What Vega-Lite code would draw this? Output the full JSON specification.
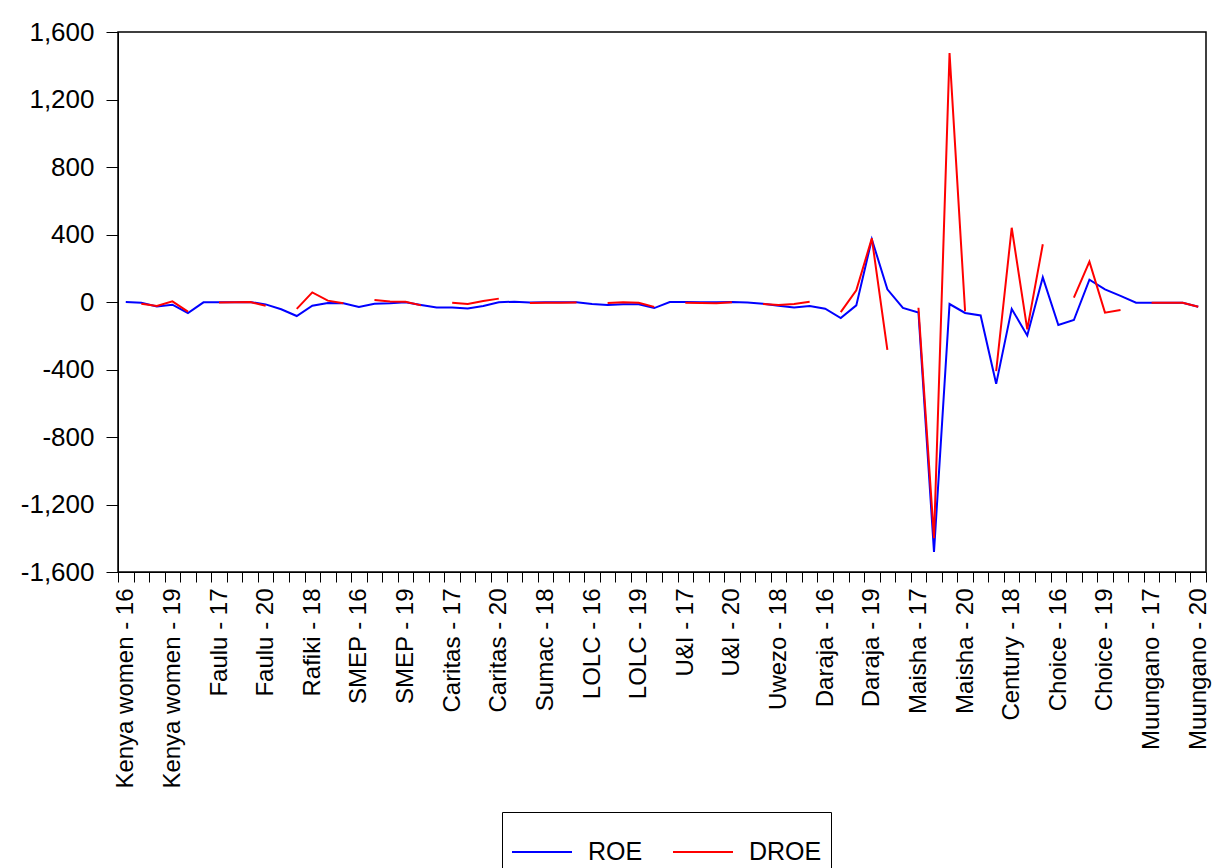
{
  "$schema": "https://vega.github.io/schema/vega-lite/v6.json",
  "width": 1088,
  "height": 540,
  "autosize": {"type": "none"},
  "padding": {"left": 118, "top": 32, "right": 7, "bottom": 296},
  "config": {
    "font": "Liberation Sans",
    "view": {"stroke": "black", "strokeWidth": 1.5},
    "axis": {"domainColor": "black", "tickColor": "black", "labelColor": "black", "grid": false, "title": null}
  },
  "data": {
    "values": [
      {"obs": "Kenya women - 16", "ROE": 0, "DROE": null},
      {"obs": "Kenya women - 17", "ROE": -4, "DROE": -10},
      {"obs": "Kenya women - 18", "ROE": -26, "DROE": -24},
      {"obs": "Kenya women - 19", "ROE": -16, "DROE": 4},
      {"obs": "Kenya women - 20", "ROE": -65, "DROE": -57},
      {"obs": "Faulu - 16", "ROE": -2, "DROE": null},
      {"obs": "Faulu - 17", "ROE": -2, "DROE": -3},
      {"obs": "Faulu - 18", "ROE": -1, "DROE": -2},
      {"obs": "Faulu - 19", "ROE": 0, "DROE": 0},
      {"obs": "Faulu - 20", "ROE": -14, "DROE": -22},
      {"obs": "Rafiki - 16", "ROE": -43, "DROE": null},
      {"obs": "Rafiki - 17", "ROE": -83, "DROE": -41},
      {"obs": "Rafiki - 18", "ROE": -22, "DROE": 57},
      {"obs": "Rafiki - 19", "ROE": -6, "DROE": 8},
      {"obs": "Rafiki - 20", "ROE": -8, "DROE": -8},
      {"obs": "SMEP - 16", "ROE": -30, "DROE": null},
      {"obs": "SMEP - 17", "ROE": -10, "DROE": 12},
      {"obs": "SMEP - 18", "ROE": -8, "DROE": 3},
      {"obs": "SMEP - 19", "ROE": -2, "DROE": 2},
      {"obs": "SMEP - 20", "ROE": -18, "DROE": -20},
      {"obs": "Caritas - 16", "ROE": -32, "DROE": null},
      {"obs": "Caritas - 17", "ROE": -32, "DROE": -4},
      {"obs": "Caritas - 18", "ROE": -38, "DROE": -12},
      {"obs": "Caritas - 19", "ROE": -24, "DROE": 6},
      {"obs": "Caritas - 20", "ROE": -2, "DROE": 20},
      {"obs": "Sumac - 16", "ROE": 2, "DROE": null},
      {"obs": "Sumac - 17", "ROE": -3, "DROE": -6},
      {"obs": "Sumac - 18", "ROE": -2, "DROE": -4},
      {"obs": "Sumac - 19", "ROE": -2, "DROE": -4},
      {"obs": "Sumac - 20", "ROE": -2, "DROE": -3},
      {"obs": "LOLC - 16", "ROE": -12, "DROE": null},
      {"obs": "LOLC - 17", "ROE": -18, "DROE": -6},
      {"obs": "LOLC - 18", "ROE": -14, "DROE": -2},
      {"obs": "LOLC - 19", "ROE": -14, "DROE": -4},
      {"obs": "LOLC - 20", "ROE": -36, "DROE": -29},
      {"obs": "U&I - 16", "ROE": 0, "DROE": null},
      {"obs": "U&I - 17", "ROE": 0, "DROE": -4},
      {"obs": "U&I - 18", "ROE": -1, "DROE": -6},
      {"obs": "U&I - 19", "ROE": -2, "DROE": -8},
      {"obs": "U&I - 20", "ROE": 0, "DROE": -2},
      {"obs": "Uwezo - 16", "ROE": -3, "DROE": null},
      {"obs": "Uwezo - 17", "ROE": -10, "DROE": -12},
      {"obs": "Uwezo - 18", "ROE": -22, "DROE": -18},
      {"obs": "Uwezo - 19", "ROE": -32, "DROE": -12},
      {"obs": "Uwezo - 20", "ROE": -24, "DROE": 2},
      {"obs": "Daraja - 16", "ROE": -40, "DROE": null},
      {"obs": "Daraja - 17", "ROE": -95, "DROE": -60},
      {"obs": "Daraja - 18", "ROE": -20, "DROE": 69},
      {"obs": "Daraja - 19", "ROE": 372, "DROE": 377},
      {"obs": "Daraja - 20", "ROE": 75, "DROE": -284},
      {"obs": "Maisha - 16", "ROE": -35, "DROE": null},
      {"obs": "Maisha - 17", "ROE": -62, "DROE": -34},
      {"obs": "Maisha - 18", "ROE": -1481, "DROE": -1400},
      {"obs": "Maisha - 19", "ROE": -12, "DROE": 1475},
      {"obs": "Maisha - 20", "ROE": -65, "DROE": -55},
      {"obs": "Century - 16", "ROE": -80, "DROE": null},
      {"obs": "Century - 17", "ROE": -485, "DROE": -410},
      {"obs": "Century - 18", "ROE": -41, "DROE": 440},
      {"obs": "Century - 19", "ROE": -198, "DROE": -162},
      {"obs": "Century - 20", "ROE": 146, "DROE": 342},
      {"obs": "Choice - 16", "ROE": -136, "DROE": null},
      {"obs": "Choice - 17", "ROE": -107, "DROE": 26},
      {"obs": "Choice - 18", "ROE": 132, "DROE": 239},
      {"obs": "Choice - 19", "ROE": 75, "DROE": -63},
      {"obs": "Choice - 20", "ROE": 36, "DROE": -47},
      {"obs": "Muungano - 16", "ROE": -4, "DROE": null},
      {"obs": "Muungano - 17", "ROE": -4, "DROE": -4},
      {"obs": "Muungano - 18", "ROE": -4, "DROE": -4},
      {"obs": "Muungano - 19", "ROE": -4, "DROE": -4},
      {"obs": "Muungano - 20", "ROE": -28, "DROE": -28}
    ]
  },
  "encoding": {
    "x": {
      "field": "obs",
      "type": "nominal",
      "sort": null,
      "scale": {"type": "band", "paddingInner": 0, "paddingOuter": 0},
      "axis": {
        "tickBand": "extent",
        "tickSize": 10,
        "labelAngle": 270,
        "labelFontSize": 24,
        "labelPadding": 6,
        "labelLimit": 400,
        "labelOverlap": false,
        "labelExpr": "round(datum.index * 69) % 3 === 0 ? datum.label : ''"
      }
    }
  },
  "layer": [
    {
      "mark": {"type": "line", "strokeWidth": 2, "invalid": "break-paths-show-domains"},
      "encoding": {
        "y": {
          "field": "ROE",
          "type": "quantitative",
          "scale": {"domain": [-1600, 1600], "nice": false, "zero": false},
          "axis": {
            "values": [-1600, -1200, -800, -400, 0, 400, 800, 1200, 1600],
            "format": ",.0f",
            "labelExpr": "replace(datum.label, '\u2212', '-')",
            "tickSize": 12,
            "labelPadding": 12,
            "labelFontSize": 26
          }
        },
        "color": {
          "datum": "ROE",
          "scale": {"domain": ["ROE", "DROE"], "range": ["#0000FF", "#FF0000"]},
          "legend": {
            "title": null,
            "orient": "none",
            "legendX": 384,
            "legendY": 780,
            "direction": "horizontal",
            "symbolType": "stroke",
            "symbolSize": 3600,
            "symbolStrokeWidth": 2,
            "labelFontSize": 25,
            "labelOffset": 15,
            "columnPadding": 26,
            "padding": 9,
            "strokeColor": "black",
            "fillColor": "white",
            "cornerRadius": 0
          }
        }
      }
    },
    {
      "mark": {"type": "line", "strokeWidth": 2, "invalid": "break-paths-show-domains"},
      "encoding": {
        "y": {"field": "DROE", "type": "quantitative"},
        "color": {"datum": "DROE"}
      }
    }
  ]
}
